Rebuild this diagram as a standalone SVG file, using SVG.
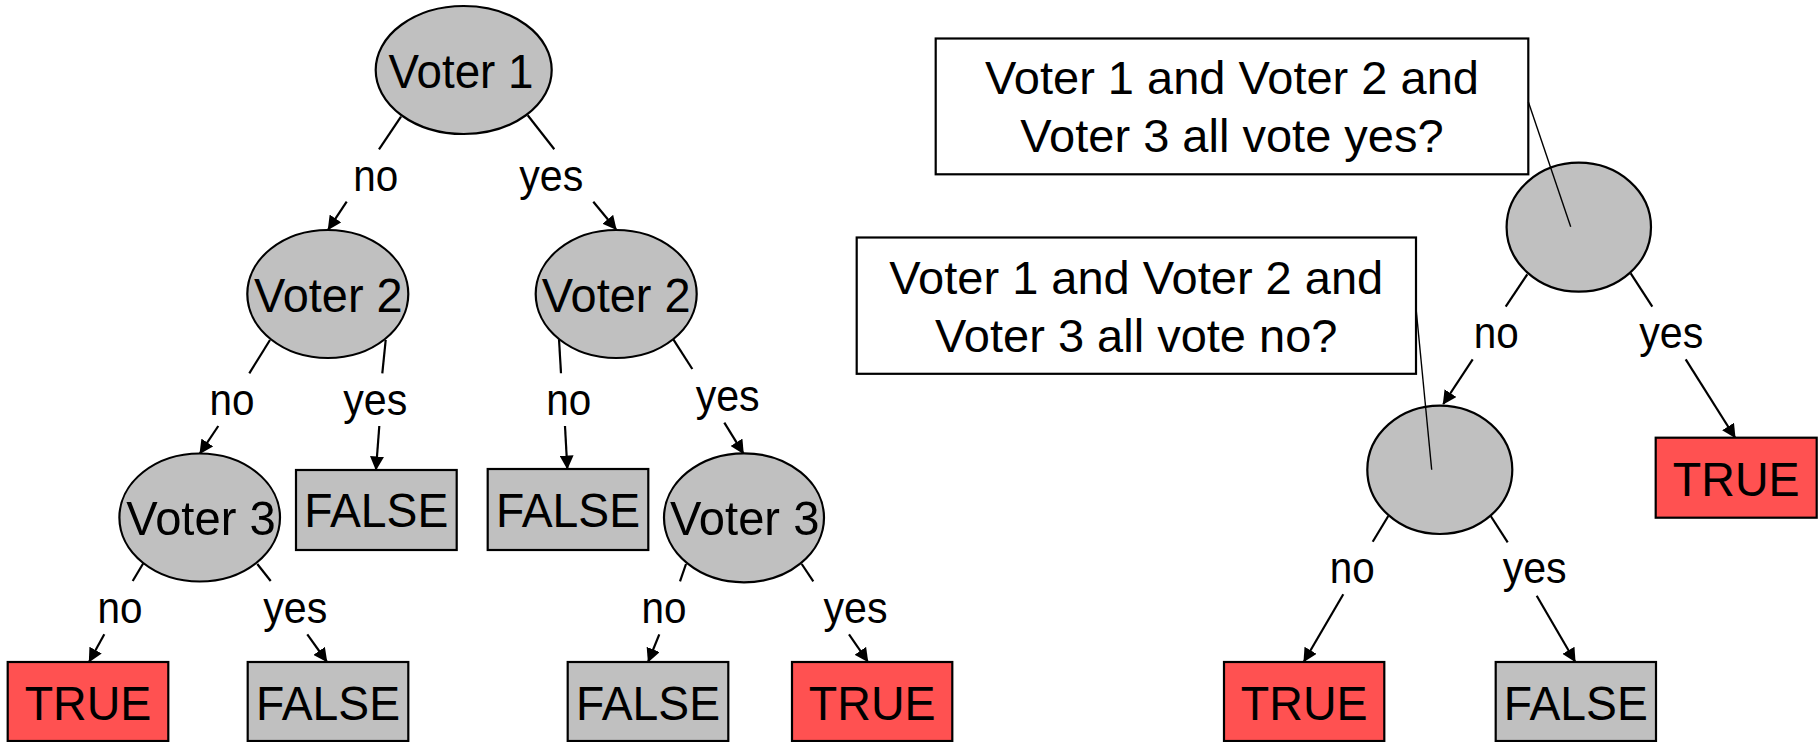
<svg xmlns="http://www.w3.org/2000/svg" width="1820" height="742" viewBox="0 0 1820 742">
<style>
.oval{fill:#C0C0C0;stroke:#000;stroke-width:2.2}
.gbox{fill:#C0C0C0;stroke:#000;stroke-width:2.2}
.rbox{fill:#FF5151;stroke:#000;stroke-width:2.2}
.qbox{fill:#fff;stroke:#000;stroke-width:2.2}
.t{font-family:"Liberation Sans",Arial,sans-serif;font-size:49px;fill:#000;text-anchor:middle}
.q{font-family:"Liberation Sans",Arial,sans-serif;font-size:47px;fill:#000;text-anchor:middle}
.lbl{font-family:"Liberation Sans",Arial,sans-serif;font-size:45px;fill:#000;text-anchor:middle}
.e{stroke:#000;stroke-width:2.2;fill:none}
.a{stroke:#000;stroke-width:2.2;fill:none;marker-end:url(#ah)}
.c{stroke:#000;stroke-width:1.4;fill:none}
</style>
<defs>
<marker id="ah" viewBox="0 0 14 14" refX="13" refY="7" markerWidth="14" markerHeight="14" markerUnits="userSpaceOnUse" orient="auto">
<path d="M0,0 L14,7 L0,14 z" fill="#000"/>
</marker>
</defs>
<rect width="1820" height="742" fill="#fff"/>

<g id="connectors">
<line class="e" x1="401" y1="116.7" x2="379" y2="149.3"/>
<line class="a" x1="346.7" y1="201.7" x2="328.3" y2="229.3"/>
<line class="e" x1="527.7" y1="115.3" x2="554.3" y2="149.3"/>
<line class="a" x1="593.3" y1="201.7" x2="616" y2="229.3"/>
<line class="e" x1="270" y1="340" x2="249.3" y2="373.3"/>
<line class="a" x1="218.3" y1="426" x2="200" y2="453.3"/>
<line class="e" x1="385.7" y1="340" x2="382.3" y2="373.3"/>
<line class="a" x1="379.3" y1="426" x2="376" y2="469.5"/>
<line class="e" x1="559" y1="339.3" x2="561" y2="373.3"/>
<line class="a" x1="565" y1="426" x2="567.3" y2="468.5"/>
<line class="e" x1="673.3" y1="339.3" x2="692.3" y2="369"/>
<line class="a" x1="724.3" y1="422.7" x2="743.3" y2="453.3"/>
<line class="e" x1="143.3" y1="563.3" x2="132.7" y2="581"/>
<line class="a" x1="104.3" y1="634.3" x2="89.3" y2="661.5"/>
<line class="e" x1="257.3" y1="564" x2="270.7" y2="581"/>
<line class="a" x1="307.3" y1="634.3" x2="326.7" y2="661.5"/>
<line class="e" x1="686" y1="564" x2="680" y2="581.3"/>
<line class="a" x1="659.3" y1="634.3" x2="648.3" y2="661.5"/>
<line class="e" x1="801.7" y1="564" x2="813.3" y2="581.3"/>
<line class="a" x1="849" y1="634.3" x2="867.7" y2="661.5"/>
<line class="e" x1="1527.3" y1="274.3" x2="1505.7" y2="306.7"/>
<line class="a" x1="1472.7" y1="359.3" x2="1443.3" y2="404"/>
<line class="e" x1="1630.7" y1="273.3" x2="1652.3" y2="306.7"/>
<line class="a" x1="1685.7" y1="359.3" x2="1735" y2="437.5"/>
<line class="e" x1="1388.3" y1="516" x2="1372.7" y2="541.7"/>
<line class="a" x1="1343.3" y1="594.3" x2="1304" y2="661.5"/>
<line class="e" x1="1490.7" y1="516" x2="1507.7" y2="542.3"/>
<line class="a" x1="1536.7" y1="595.7" x2="1575" y2="661.5"/>
</g>

<g id="labels">
<text class="lbl" x="375.8" y="190.7" textLength="45" lengthAdjust="spacingAndGlyphs">no</text>
<text class="lbl" x="551.3" y="190.7" textLength="64" lengthAdjust="spacingAndGlyphs">yes</text>
<text class="lbl" x="232" y="415" textLength="45" lengthAdjust="spacingAndGlyphs">no</text>
<text class="lbl" x="375.3" y="415" textLength="64" lengthAdjust="spacingAndGlyphs">yes</text>
<text class="lbl" x="568.7" y="415" textLength="45" lengthAdjust="spacingAndGlyphs">no</text>
<text class="lbl" x="727.7" y="411" textLength="64" lengthAdjust="spacingAndGlyphs">yes</text>
<text class="lbl" x="120" y="623.3" textLength="45" lengthAdjust="spacingAndGlyphs">no</text>
<text class="lbl" x="295.3" y="623" textLength="64" lengthAdjust="spacingAndGlyphs">yes</text>
<text class="lbl" x="664" y="622.7" textLength="45" lengthAdjust="spacingAndGlyphs">no</text>
<text class="lbl" x="855.5" y="622.7" textLength="64" lengthAdjust="spacingAndGlyphs">yes</text>
<text class="lbl" x="1496.2" y="348.3" textLength="45" lengthAdjust="spacingAndGlyphs">no</text>
<text class="lbl" x="1671.3" y="348" textLength="64" lengthAdjust="spacingAndGlyphs">yes</text>
<text class="lbl" x="1352.2" y="583.3" textLength="45" lengthAdjust="spacingAndGlyphs">no</text>
<text class="lbl" x="1534.7" y="583" textLength="64" lengthAdjust="spacingAndGlyphs">yes</text>
</g>

<g id="voter1"><ellipse class="oval" cx="463.7" cy="70" rx="88" ry="64"/><text class="t" x="461" y="88.3" textLength="145" lengthAdjust="spacingAndGlyphs">Voter 1</text></g>
<g id="voter2-left"><ellipse class="oval" cx="327.8" cy="294" rx="80.5" ry="64"/><text class="t" x="328.3" y="311.7" textLength="148.7" lengthAdjust="spacingAndGlyphs">Voter 2</text></g>
<g id="voter2-right"><ellipse class="oval" cx="616.2" cy="294" rx="80.5" ry="64"/><text class="t" x="616.2" y="311.7" textLength="148.7" lengthAdjust="spacingAndGlyphs">Voter 2</text></g>
<g id="voter3-left"><ellipse class="oval" cx="199.7" cy="517.5" rx="80.3" ry="64"/><text class="t" x="201" y="535" textLength="149.3" lengthAdjust="spacingAndGlyphs">Voter 3</text></g>
<g id="voter3-right"><ellipse class="oval" cx="744" cy="517.8" rx="80" ry="64.5"/><text class="t" x="744.7" y="535" textLength="149.3" lengthAdjust="spacingAndGlyphs">Voter 3</text></g>

<g id="false-1"><rect class="gbox" x="296" y="470" width="160.7" height="80"/><text class="t" x="376.3" y="527.3" textLength="144" lengthAdjust="spacingAndGlyphs">FALSE</text></g>
<g id="false-2"><rect class="gbox" x="487.7" y="469" width="160.6" height="81"/><text class="t" x="568" y="527.3" textLength="144" lengthAdjust="spacingAndGlyphs">FALSE</text></g>
<g id="true-1"><rect class="rbox" x="7.7" y="662" width="160.6" height="79"/><text class="t" x="88" y="720" textLength="126.7" lengthAdjust="spacingAndGlyphs">TRUE</text></g>
<g id="false-3"><rect class="gbox" x="247.7" y="662" width="160.6" height="79"/><text class="t" x="328" y="720" textLength="144" lengthAdjust="spacingAndGlyphs">FALSE</text></g>
<g id="false-4"><rect class="gbox" x="567.7" y="662" width="160.6" height="79"/><text class="t" x="648" y="720" textLength="144" lengthAdjust="spacingAndGlyphs">FALSE</text></g>
<g id="true-2"><rect class="rbox" x="792" y="662" width="160.3" height="79"/><text class="t" x="872.2" y="720" textLength="126.7" lengthAdjust="spacingAndGlyphs">TRUE</text></g>

<g id="question-yes"><rect class="qbox" x="935.7" y="38.5" width="592.6" height="135.8"/><text class="q" x="1232" y="94.3">Voter 1 and Voter 2 and</text><text class="q" x="1232" y="151.7">Voter 3 all vote yes?</text></g>
<g id="question-no"><rect class="qbox" x="856.7" y="237.5" width="559.3" height="136.3"/><text class="q" x="1136.3" y="294.3">Voter 1 and Voter 2 and</text><text class="q" x="1136.3" y="351.7">Voter 3 all vote no?</text></g>

<g id="all-yes"><ellipse class="oval" cx="1578.8" cy="227.2" rx="72.2" ry="64.5"/></g>
<g id="all-no"><ellipse class="oval" cx="1439.8" cy="469.8" rx="72.5" ry="64.2"/></g>
<g id="true-3"><rect class="rbox" x="1655.7" y="437.7" width="161" height="80"/><text class="t" x="1736.2" y="496" textLength="126.7" lengthAdjust="spacingAndGlyphs">TRUE</text></g>
<g id="true-4"><rect class="rbox" x="1224" y="662" width="160.3" height="79"/><text class="t" x="1304.2" y="720" textLength="126.7" lengthAdjust="spacingAndGlyphs">TRUE</text></g>
<g id="false-5"><rect class="gbox" x="1495.7" y="662" width="160.3" height="79"/><text class="t" x="1575.8" y="720" textLength="144" lengthAdjust="spacingAndGlyphs">FALSE</text></g>

<g id="callouts">
<line class="c" x1="1528.3" y1="101.7" x2="1570.7" y2="226.7"/>
<line class="c" x1="1416" y1="308" x2="1431.7" y2="469.8"/>
</g>
</svg>
